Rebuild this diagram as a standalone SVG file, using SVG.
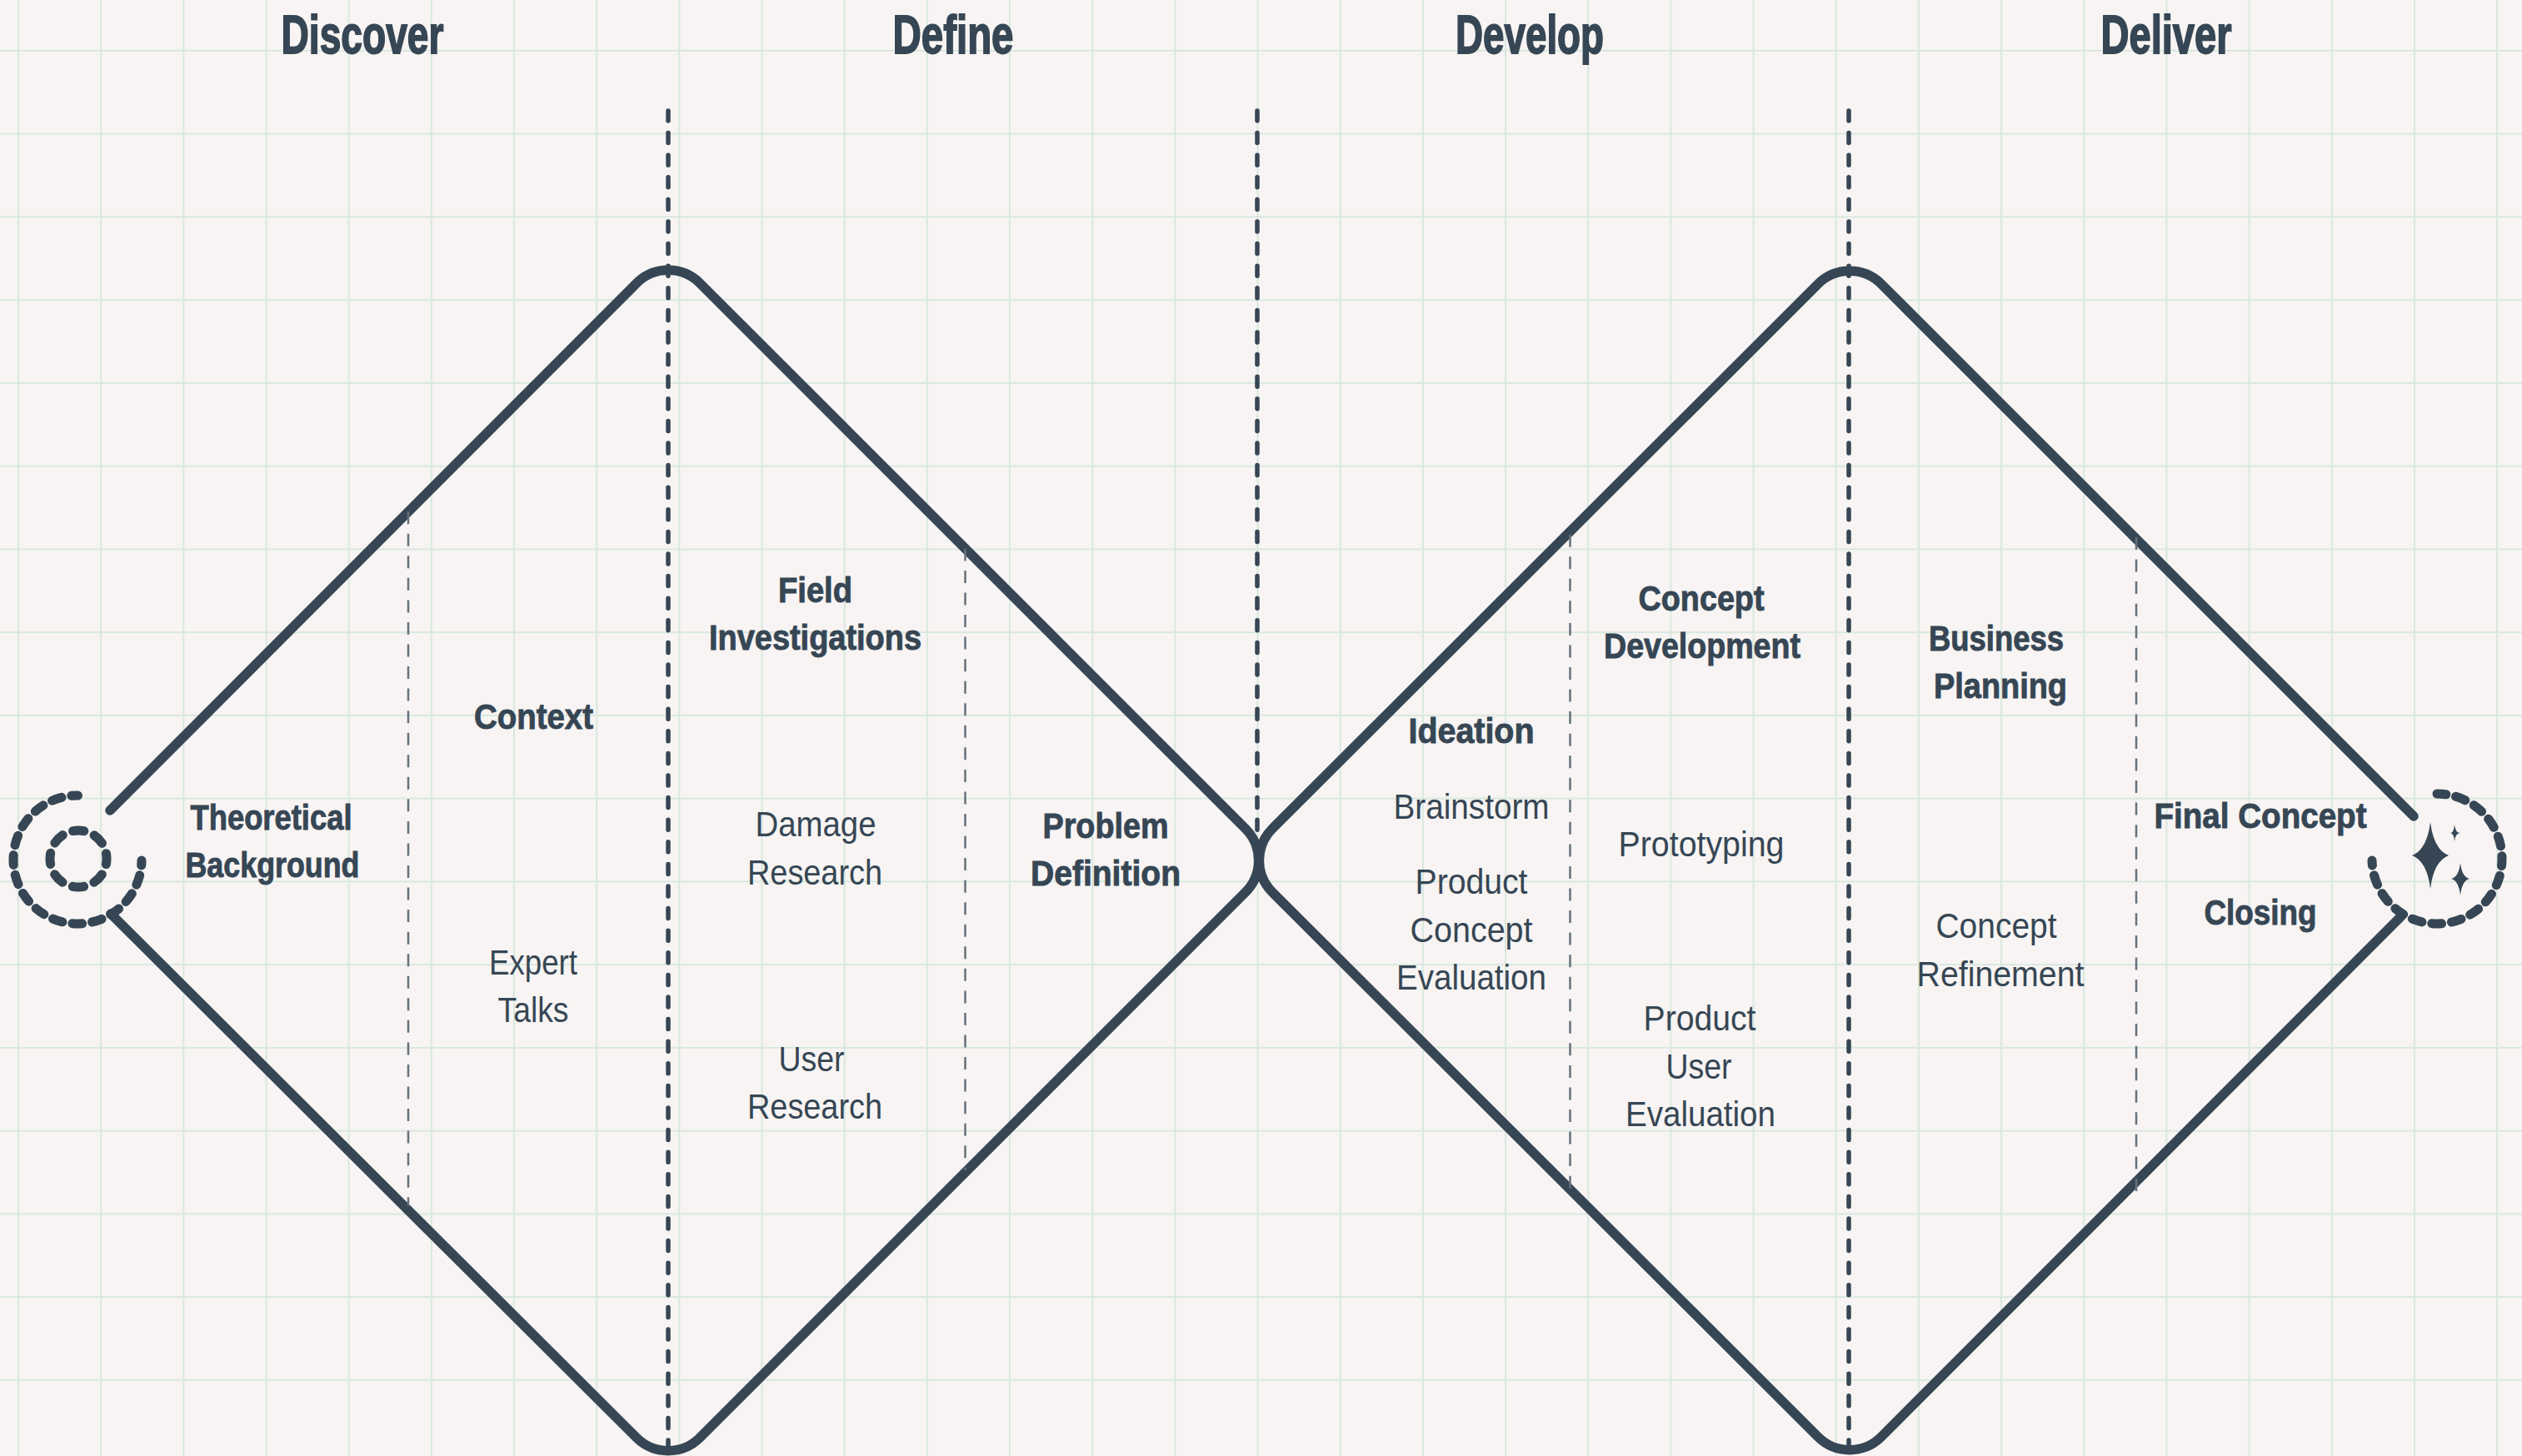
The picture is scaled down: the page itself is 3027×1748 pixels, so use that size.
<svg xmlns="http://www.w3.org/2000/svg" width="3027" height="1748" viewBox="0 0 3027 1748">
<defs>
<pattern id="grid" width="99.17" height="99.75" patternUnits="userSpaceOnUse" x="-27.6" y="11"><path d="M49.6 0V100M0 49.9H100" fill="none" stroke="#d9e8de" stroke-width="2"/></pattern>
</defs>
<style>
.d{fill:none;stroke:#364654;stroke-width:11.5;stroke-linecap:round;stroke-linejoin:round}
.v{fill:none;stroke:#364654;stroke-width:5.5;stroke-linecap:round;stroke-dasharray:12 14.6}
.t{fill:none;stroke:#66717c;stroke-width:2.5;stroke-dasharray:15 11.55}
.r{fill:none;stroke:#364654;stroke-width:11;stroke-linecap:round;stroke-dasharray:12 12}
text{font-family:"Liberation Sans",Arial,sans-serif;fill:#364654;text-anchor:middle;font-size:42px}
.b{font-weight:700;stroke:#364654;stroke-width:.9}
.h{font-weight:700;font-size:64px;stroke:#364654;stroke-width:1.8}
</style>
<rect width="3027" height="1748" fill="#f7f4f3"/>
<rect width="3027" height="1748" fill="url(#grid)"/>
<g id="connectors">
<path class="d" d="M132 973L764 340A54 54 0 0 1 840 340L1495 995A54 54 0 0 1 1495 1071L840 1726A54 54 0 0 1 764 1726L133 1097"/>
<path class="d" d="M2897 980L2258 341A54 54 0 0 0 2182 341L1527 995A54 54 0 0 0 1527 1071L2182 1725A54 54 0 0 0 2258 1725L2882 1100"/>
<path class="v" d="M802 133V1748"/>
<path class="v" d="M1509 133V1000"/>
<path class="v" d="M2219 133V1748"/>
<path class="t" d="M490 614.2V1448"/>
<path class="t" d="M1158.5 658.4V1405"/>
<path class="t" d="M1884.5 641.7V1430"/>
<path class="t" d="M2564 645V1430"/>
</g>
<g id="start">
<path class="r" stroke-dashoffset="6" d="M170 1033A77 77 0 1 1 93.5 955"/>
<circle class="r" style="stroke-dasharray:13.35 13.35" stroke-dashoffset="6.7" cx="94" cy="1031" r="34"/>
</g>
<g id="end">
<path class="r" stroke-dashoffset="6" d="M2847 1033A78 78 0 1 0 2925 953"/>
<path fill="#364654" d="M2917 987Q2921 1020 2939 1027Q2921 1034 2917 1067Q2913 1034 2895 1027Q2913 1020 2917 987ZM2946 990Q2947 1000 2953 1000Q2947 1000 2946 1010Q2945 1000 2941 1000Q2945 1000 2946 990ZM2953 1036Q2955 1053 2964 1055Q2955 1057 2953 1075Q2951 1057 2942 1055Q2951 1053 2953 1036Z"/>
</g>
<g id="headers">
<text class="h" x="435" y="64" textLength="195" lengthAdjust="spacingAndGlyphs">Discover</text>
<text class="h" x="1144" y="64" textLength="145" lengthAdjust="spacingAndGlyphs">Define</text>
<text class="h" x="1836" y="64" textLength="178" lengthAdjust="spacingAndGlyphs">Develop</text>
<text class="h" x="2600" y="64" textLength="157" lengthAdjust="spacingAndGlyphs">Deliver</text>
</g>
<g id="theoretical"><text class="b" x="325.5" y="996" textLength="194" lengthAdjust="spacingAndGlyphs">Theoretical</text><text class="b" x="327" y="1053" textLength="209" lengthAdjust="spacingAndGlyphs">Background</text></g>
<g id="context"><text class="b" x="640.5" y="875" textLength="143" lengthAdjust="spacingAndGlyphs">Context</text></g>
<g id="expert"><text x="640" y="1170" textLength="106" lengthAdjust="spacingAndGlyphs">Expert</text><text x="640" y="1227" textLength="85" lengthAdjust="spacingAndGlyphs">Talks</text></g>
<g id="field"><text class="b" x="978.5" y="723" textLength="89" lengthAdjust="spacingAndGlyphs">Field</text><text class="b" x="978.5" y="780" textLength="255" lengthAdjust="spacingAndGlyphs">Investigations</text></g>
<g id="damage"><text x="979" y="1004" textLength="145" lengthAdjust="spacingAndGlyphs">Damage</text><text x="978" y="1061.5" textLength="162" lengthAdjust="spacingAndGlyphs">Research</text></g>
<g id="user"><text x="974" y="1286" textLength="79" lengthAdjust="spacingAndGlyphs">User</text><text x="978" y="1343" textLength="162" lengthAdjust="spacingAndGlyphs">Research</text></g>
<g id="problem"><text class="b" x="1327" y="1006" textLength="151" lengthAdjust="spacingAndGlyphs">Problem</text><text class="b" x="1327" y="1063" textLength="180" lengthAdjust="spacingAndGlyphs">Definition</text></g>
<g id="ideation"><text class="b" x="1766" y="892" textLength="151" lengthAdjust="spacingAndGlyphs">Ideation</text></g>
<g id="brainstorm"><text x="1766" y="983" textLength="187" lengthAdjust="spacingAndGlyphs">Brainstorm</text></g>
<g id="pce"><text x="1766" y="1073" textLength="135" lengthAdjust="spacingAndGlyphs">Product</text><text x="1766" y="1130.5" textLength="147" lengthAdjust="spacingAndGlyphs">Concept</text><text x="1766" y="1188" textLength="180" lengthAdjust="spacingAndGlyphs">Evaluation</text></g>
<g id="cd"><text class="b" x="2042" y="733" textLength="151" lengthAdjust="spacingAndGlyphs">Concept</text><text class="b" x="2043" y="790" textLength="236" lengthAdjust="spacingAndGlyphs">Development</text></g>
<g id="proto"><text x="2042" y="1028" textLength="199" lengthAdjust="spacingAndGlyphs">Prototyping</text></g>
<g id="pue"><text x="2040" y="1237" textLength="135" lengthAdjust="spacingAndGlyphs">Product</text><text x="2039" y="1294.5" textLength="79" lengthAdjust="spacingAndGlyphs">User</text><text x="2041" y="1352" textLength="180" lengthAdjust="spacingAndGlyphs">Evaluation</text></g>
<g id="bp"><text class="b" x="2396" y="781" textLength="162" lengthAdjust="spacingAndGlyphs">Business</text><text class="b" x="2401" y="838" textLength="160" lengthAdjust="spacingAndGlyphs">Planning</text></g>
<g id="cr"><text x="2396" y="1126" textLength="145" lengthAdjust="spacingAndGlyphs">Concept</text><text x="2401" y="1183.5" textLength="201" lengthAdjust="spacingAndGlyphs">Refinement</text></g>
<g id="fc"><text class="b" x="2713" y="994" textLength="255" lengthAdjust="spacingAndGlyphs">Final Concept</text></g>
<g id="closing"><text class="b" x="2713" y="1110" textLength="135" lengthAdjust="spacingAndGlyphs">Closing</text></g>
</svg>
